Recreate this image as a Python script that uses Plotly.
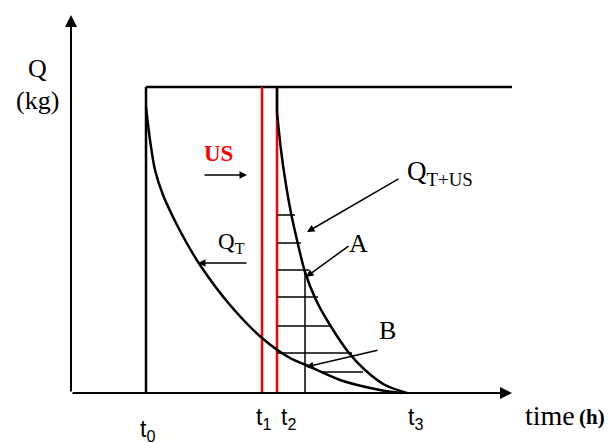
import plotly.graph_objects as go

# time marks (h, schematic units) and the tick labels under the axis
tick_labels = ["t<sub>0</sub>", "t<sub>1</sub>", "t<sub>2</sub>", "t<sub>3</sub>"]
tick_times = [7.5, 19.1, 20.6, 33.6]
q_max = 30.6
t_end = 44.1

# Q_T curve: treatment only
qt_time = [7.5, 7.9, 8.4, 9.2, 10.2, 11.4, 12.9, 15.9, 19.1, 21.9, 23.5, 26.9, 30.9, 33.1]
qt_mass = [28.6, 25.3, 22.3, 19.8, 17.6, 15.3, 12.8, 8.8, 5.5, 3.5, 2.8, 1.3, 0.3, 0.0]

# Q_T+US curve: treatment with ultrasound from t2
qtus_time = [20.6, 21.0, 21.5, 22.0, 22.6, 23.4, 24.5, 25.9, 27.8, 29.4, 31.4, 33.6]
qtus_mass = [28.1, 24.3, 20.8, 18.0, 15.3, 12.1, 9.3, 6.8, 4.0, 2.3, 0.8, 0.0]

# hatching of the area between the curves
hatch_level = [17.8, 15.0, 12.3, 9.6, 6.7, 4.0, 2.1]
hatch_start = [20.6, 20.6, 20.6, 20.6, 20.6, 20.6, 25.2]
hatch_end = [22.4, 23.0, 23.8, 24.7, 26.0, 28.1, 29.2]
point_a = [23.4, 12.0]

fig = go.Figure()


def seg(xs, ys, color="black", width=2.5):
    fig.add_trace(go.Scatter(x=xs, y=ys, mode="lines", hoverinfo="skip",
                             line=dict(color=color, width=width)))


# frame of the schematic
seg([tick_times[0], t_end], [q_max, q_max])
seg([tick_times[0], tick_times[0]], [0, q_max])
seg([tick_times[1], tick_times[1]], [0, q_max], color="red")
seg([tick_times[2], tick_times[2]], [0, q_max], color="red")
seg([tick_times[2], tick_times[2]], [qtus_mass[0], q_max])

# hatching and the vertical through A
for lvl, a, b in zip(hatch_level, hatch_start, hatch_end):
    seg([a, b], [lvl, lvl], width=1.5)
seg([point_a[0], point_a[0]], [0, point_a[1]], width=1.5)

# curves
fig.add_trace(go.Scatter(x=qt_time, y=qt_mass, mode="lines", hoverinfo="skip",
                         line=dict(color="black", width=2.5, shape="spline", smoothing=0.8)))
fig.add_trace(go.Scatter(x=qtus_time, y=qtus_mass, mode="lines", hoverinfo="skip",
                         line=dict(color="black", width=2.5, shape="spline", smoothing=0.8)))

anns = []


def arrow(tail, head, width=1.5, size=1.0):
    anns.append(dict(x=head[0], y=head[1], ax=tail[0], ay=tail[1], xref="x", yref="y",
                     axref="x", ayref="y", text="", showarrow=True, arrowhead=2,
                     arrowsize=size, arrowwidth=width, arrowcolor="black"))


def label(x, y, text, size=21, color="black", family="Liberation Serif"):
    anns.append(dict(x=x, y=y, xref="x", yref="y", text=text, showarrow=False,
                     font=dict(family=family, size=size, color=color)))


# axes with arrows
arrow((0, 0), (0, 37.8), width=2, size=1.2)
arrow((0, 0), (t_end, 0), width=2, size=1.2)

# pointer arrows
arrow((13.2, 21.8), (17.6, 21.8))
arrow((17.7, 13.0), (12.7, 13.0))
arrow((32.9, 21.5), (23.6, 16.1))
arrow((27.9, 14.8), (23.5, 11.6))
arrow((30.8, 4.3), (23.5, 2.6))

label(-3.4, 32.5, "Q", size=26)
label(-3.4, 29.3, "(kg)", size=26)
label(14.7, 24.0, "<b>US</b>", size=23, color="red")
label(16.0, 15.0, "Q<sub>T</sub>", size=23)
label(36.9, 22.0, "Q<sub>T+US</sub>", size=27)
label(28.7, 15.0, "A", size=26)
label(31.6, 6.3, "B", size=26)

# tick labels under the axis
tick_label_x = [7.6, 19.2, 21.7, 34.4]
tick_label_y = [-3.7, -2.5, -2.5, -2.5]
for tx, ty, txt in zip(tick_label_x, tick_label_y, tick_labels):
    label(tx, ty, txt, size=23, family="Liberation Sans")
label(47.9, -2.2, "time", size=28)
label(52.1, -2.4, "<b>(h)</b>", size=21)

fig.update_layout(
    width=610, height=443,
    margin=dict(l=0, r=0, t=0, b=0),
    paper_bgcolor="white", plot_bgcolor="white",
    showlegend=False,
    xaxis=dict(range=[-7.1, 53.9], visible=False, fixedrange=True),
    yaxis=dict(range=[-5.0, 39.3], visible=False, fixedrange=True),
    annotations=anns,
)

# drop the page margin so the figure fills the window exactly
fig.write_html("out.html", config={"displayModeBar": False},
               post_script="document.body.style.margin='0';document.body.style.overflow='hidden';")
